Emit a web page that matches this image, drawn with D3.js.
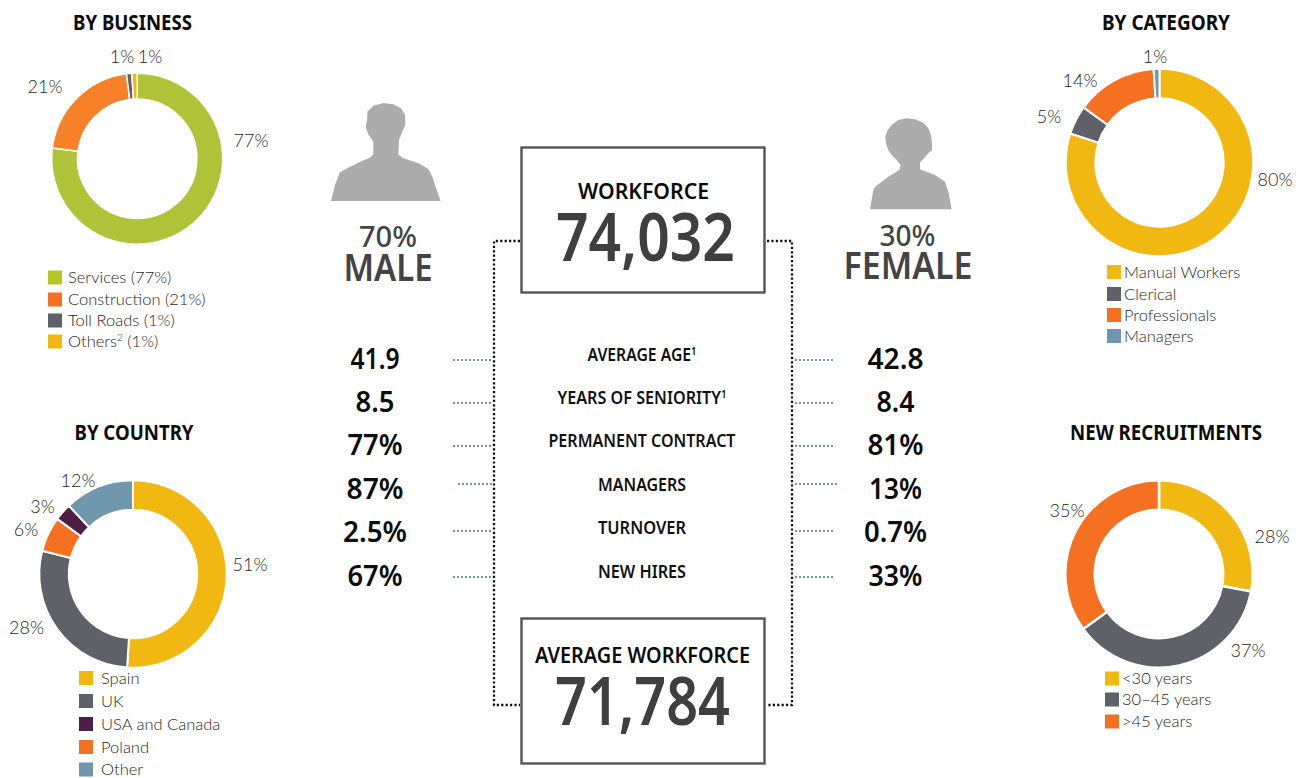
<!DOCTYPE html>
<html>
<head>
<meta charset="utf-8">
<script src="https://cdnjs.cloudflare.com/ajax/libs/d3/7.8.5/d3.min.js"></script>
<style>
  html, body { margin: 0; padding: 0; background: #fff; }
  svg { display: block; }
  text { font-family: "Noto Sans", sans-serif; }
  .light { font-family: Lato, sans-serif; font-weight: 300; fill: #1f1f22; }
</style>
</head>
<body>
<svg id="chart" width="1300" height="778"></svg>
<script>
// values
const businessNames = ['Services', 'Construction', 'Toll Roads', 'Others'];
const businessValues = [77, 21, 1, 1];
const businessColors = ['#afc238', '#f68129', '#5e6168', '#f1b811'];
const businessLegend = ['Services (77%)', 'Construction (21%)', 'Toll Roads (1%)', 'Others^2 (1%)'];
const businessLegendColors = ['#b5c722', '#f57021', '#5e6168', '#f1b811'];

const countryNames = ['Spain', 'UK', 'Poland', 'USA and Canada', 'Other'];
const countryValues = [51, 28, 6, 3, 12];
const countryColors = ['#f1b811', '#5e6168', '#f57021', '#4f1e45', '#7097ae'];
const countryLegend = ['Spain', 'UK', 'USA and Canada', 'Poland', 'Other'];
const countryLegendColors = ['#f1b811', '#5e6168', '#4f1e45', '#f57021', '#7097ae'];

const categoryNames = ['Manual Workers', 'Clerical', 'Professionals', 'Managers'];
const categoryValues = [80, 5, 14, 1];
const categoryColors = ['#f1b811', '#5e6168', '#f57021', '#7097ae'];

const recruitNames = ['<30 years', '30-45 years', '>45 years'];
const recruitValues = [28, 37, 35];
const recruitColors = ['#f1b811', '#5e6168', '#f57021'];

const rowLabels = ['AVERAGE AGE^1', 'YEARS OF SENIORITY^1', 'PERMANENT CONTRACT', 'MANAGERS', 'TURNOVER', 'NEW HIRES'];
const maleValues = ['41.9', '8.5', '77%', '87%', '2.5%', '67%'];
const femaleValues = ['42.8', '8.4', '81%', '13%', '0.7%', '33%'];

const svg = d3.select('#chart');

// a^b draws b as superscript
function addText(sel, str, size) {
  const parts = str.split('^');
  sel.append('tspan').text(parts[0]);
  if (parts[1]) {
    const rest = parts[1].split(' ');
    sel.append('tspan').attr('dy', -size * 0.35).style('font-size', (size * 0.6) + 'px').text(rest[0]);
    if (rest[1]) sel.append('tspan').attr('dy', size * 0.35).text(' ' + rest[1]);
  }
}

function heading(str, x, y, size, width, fill, weight) {
  const t = svg.append('text')
    .attr('x', x).attr('y', y)
    .attr('text-anchor', 'middle')
    .attr('fill', fill || '#111')
    .style('font-size', size + 'px')
    .style('font-weight', weight || 600);
  addText(t, str, size);
  if (width) t.attr('textLength', width).attr('lengthAdjust', 'spacingAndGlyphs');
  return t;
}

function donut(cfg) {
  const pie = d3.pie().sort(null).value(d => d.value);
  const arc = d3.arc().innerRadius(cfg.inner).outerRadius(cfg.outer);
  const color = d3.scaleOrdinal().domain(cfg.names).range(cfg.colors);
  const rows = cfg.names.map((n, i) => ({ name: n, value: cfg.values[i] }));

  heading(cfg.title, cfg.titleX, cfg.titleY, 22, cfg.titleW, '#0c0c0c', 700);

  svg.append('g')
    .attr('transform', 'translate(' + cfg.cx + ',' + cfg.cy + ')')
    .selectAll('path')
    .data(pie(rows))
    .join('path')
    .attr('d', arc)
    .attr('fill', d => color(d.data.name))
    .attr('stroke', '#fff')
    .attr('stroke-width', cfg.gap);

  // the labels sit by hand around the ring in the original, not on the centroids
  svg.append('g')
    .selectAll('text')
    .data(rows)
    .join('text')
    .attr('class', 'light')
    .attr('text-anchor', 'middle')
    .attr('x', (d, i) => cfg.labelPos[i][0])
    .attr('y', (d, i) => cfg.labelPos[i][1])
    .style('font-size', '18px')
    .text(d => d.value + '%');

  const legend = svg.append('g').selectAll('g')
    .data(cfg.legend)
    .join('g')
    .attr('transform', (d, i) => 'translate(' + cfg.legendX + ',' + cfg.legendY[i] + ')');
  legend.append('rect')
    .attr('x', 0).attr('y', -7).attr('width', 14).attr('height', 14)
    .attr('fill', (d, i) => cfg.legendColors[i]);
  legend.append('text')
    .attr('class', 'light')
    .attr('x', cfg.legendGap).attr('y', 5.5)
    .style('font-size', '16.5px')
    .each(function (d) { addText(d3.select(this), d, 16.5); });
}

donut({
  title: 'BY BUSINESS', titleX: 132.5, titleY: 29.5, titleW: 119,
  cx: 137.2, cy: 158.7, outer: 85.5, inner: 59.7, gap: 1.5,
  names: businessNames, values: businessValues, colors: businessColors,
  labelPos: [[251, 147], [45, 93], [122, 63], [150, 63]],
  legend: businessLegend, legendColors: businessLegendColors,
  legendX: 48, legendY: [277.5, 299.5, 320.5, 341.5], legendGap: 20
});
donut({
  title: 'BY COUNTRY', titleX: 134, titleY: 439.5, titleW: 119,
  cx: 133, cy: 574, outer: 93.7, inner: 64.2, gap: 2,
  names: countryNames, values: countryValues, colors: countryColors,
  labelPos: [[250, 571], [26.5, 634], [26, 536], [42.5, 513], [78, 487]],
  legend: countryLegend, legendColors: countryLegendColors,
  legendX: 79, legendY: [678, 701, 724, 747, 769.5], legendGap: 22
});
donut({
  title: 'BY CATEGORY', titleX: 1166, titleY: 29.5, titleW: 128,
  cx: 1159.5, cy: 162.5, outer: 93.7, inner: 64.2, gap: 2,
  names: categoryNames, values: categoryValues, colors: categoryColors,
  labelPos: [[1275, 186], [1049, 123], [1080, 87], [1155, 63]],
  legend: categoryNames, legendColors: categoryColors,
  legendX: 1107, legendY: [272, 294, 315, 336], legendGap: 17
});
donut({
  title: 'NEW RECRUITMENTS', titleX: 1166, titleY: 439.5, titleW: 192,
  cx: 1159, cy: 574, outer: 93.7, inner: 64.2, gap: 2.5,
  names: recruitNames, values: recruitValues, colors: recruitColors,
  labelPos: [[1272, 543], [1248, 657], [1067, 517]],
  legend: ['<30 years', '30\u201345 years', '>45 years'], legendColors: recruitColors,
  legendX: 1105, legendY: [678.5, 699.5, 721.5], legendGap: 17
});

// silhouettes
const line = d3.line();
const malePts = [[18,318],[30,270],[45,232],[70,218],[110,198],[135,188],[145,178],[145,140],[130,118],[122,95],[127,70],[127,50],[145,32],[175,24],[205,28],[228,40],[240,60],[241,90],[232,110],[222,135],[220,178],[232,188],[280,205],[310,222],[322,245],[335,285],[347,318]];
const femalePts = [[30,298],[40,240],[48,228],[85,200],[118,180],[122,165],[110,150],[95,135],[85,120],[78,100],[76,80],[82,62],[95,45],[115,30],[140,25],[165,28],[190,38],[205,55],[213,75],[216,100],[216,120],[205,130],[192,145],[180,158],[180,178],[225,195],[255,215],[265,245],[275,298]];
svg.append('path').attr('d', line(malePts) + 'Z').attr('fill', '#acacac')
  .attr('transform', 'translate(325,95) scale(0.3333)');
svg.append('path').attr('d', line(femalePts) + 'Z').attr('fill', '#acacac')
  .attr('transform', 'translate(860,110) scale(0.3333)');

heading('70%', 388, 247, 28, 58, '#444', 500);
heading('MALE', 388, 280.5, 38, 89, '#444', 600);
heading('30%', 907.5, 246, 28, 56, '#444', 500);
heading('FEMALE', 908, 278.5, 38, 129, '#444', 600);

// black dotted frame behind the boxes
const dotted = d3.line();
svg.append('path')
  .attr('d', dotted([[520, 241], [494, 241], [494, 705], [520, 705]]))
  .attr('fill', 'none').attr('stroke', '#111').attr('stroke-width', 2.3).attr('stroke-dasharray', '2.2 2.2');
svg.append('path')
  .attr('d', dotted([[767, 241], [792, 241], [792, 705], [767, 705]]))
  .attr('fill', 'none').attr('stroke', '#111').attr('stroke-width', 2.3).attr('stroke-dasharray', '2.2 2.2');

[147.5, 618.5].forEach(y => {
  svg.append('rect')
    .attr('x', 521.5).attr('y', y).attr('width', 243).attr('height', 145)
    .attr('fill', '#fff').attr('stroke', '#555').attr('stroke-width', 2.4);
});

heading('WORKFORCE', 643.5, 198.5, 21, 131, '#0c0c0c', 600);
heading('74,032', 645.5, 260.5, 67, 179, '#3f3f3f', 600);
heading('AVERAGE WORKFORCE', 642.5, 662.5, 21, 215, '#0c0c0c', 600);
heading('71,784', 642.5, 724.5, 67, 175, '#3f3f3f', 600);

// middle table
const rowY = d3.scalePoint().domain(rowLabels).range([368, 585]);
const rowW = [109, 169, 187, 88, 88, 88];
const maleW = [49, 39, 55, 57, 64, 55];
const femaleW = [56, 38, 56, 53, 63, 54];
const leadStart = [453, 453, 453, 458, 453, 453];
const leadEnd = [833, 833, 833, 837, 833, 833];
const leadY = [360, 403, 446, 484, 531, 577];

rowLabels.forEach((lab, i) => {
  const y = rowY(lab);
  heading(lab, 642, y - 7.5, 17, rowW[i]);
  heading(maleValues[i], 375, y + 0.5, 28.5, maleW[i], '#0c0c0c', 600);
  heading(femaleValues[i], 895.5, y + 0.5, 28.5, femaleW[i], '#0c0c0c', 600);
  svg.append('path')
    .attr('d', dotted([[leadStart[i], leadY[i]], [492, leadY[i]]]))
    .attr('fill', 'none').attr('stroke', '#6f97ae').attr('stroke-width', 2).attr('stroke-dasharray', '2 2');
  svg.append('path')
    .attr('d', dotted([[795, leadY[i]], [leadEnd[i], leadY[i]]]))
    .attr('fill', 'none').attr('stroke', '#6f97ae').attr('stroke-width', 2).attr('stroke-dasharray', '2 2');
});
</script>
</body>
</html>
